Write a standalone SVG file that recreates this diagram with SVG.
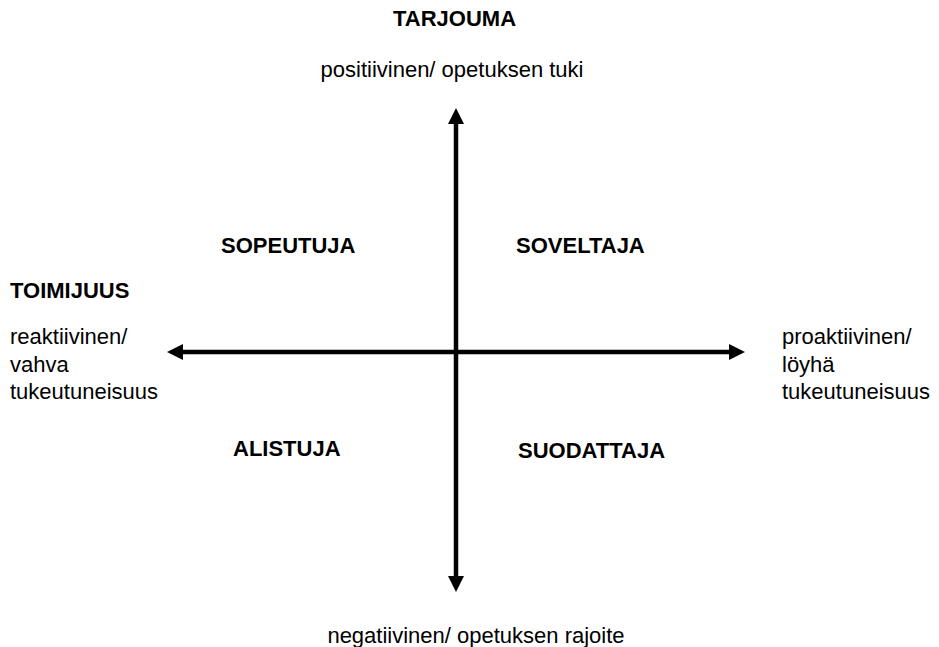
<svg xmlns="http://www.w3.org/2000/svg" width="939" height="647" viewBox="0 0 939 647">
<defs>
<style>
text{font-family:"Liberation Sans",Arial,sans-serif;font-size:22px;fill:#000}
.b{font-weight:bold}
.ax{stroke:#000;stroke-width:4.5;fill:none}
</style>
<marker id="ah" markerUnits="userSpaceOnUse" markerWidth="16" markerHeight="16" viewBox="0 0 16 16" refX="0" refY="8" orient="auto-start-reverse">
<path d="M0,0 L16,8 L0,16 Z" fill="#000"/>
</marker>
</defs>
<rect width="939" height="647" fill="#fff"/>
<g id="connectors">
<line class="ax" x1="456" y1="124" x2="456" y2="576" marker-start="url(#ah)" marker-end="url(#ah)"/>
<line class="ax" x1="183" y1="352" x2="729" y2="352" marker-start="url(#ah)" marker-end="url(#ah)"/>
</g>
<g id="tarjouma">
<text class="b" x="454.5" y="26" text-anchor="middle">TARJOUMA</text>
<text x="452" y="77" text-anchor="middle">positiivinen/ opetuksen tuki</text>
</g>
<g id="negatiivinen">
<text x="476" y="643" text-anchor="middle">negatiivinen/ opetuksen rajoite</text>
</g>
<g id="toimijuus">
<text class="b" x="10" y="298">TOIMIJUUS</text>
<text x="10" y="344">reaktiivinen/</text>
<text x="10" y="371.5">vahva</text>
<text x="10" y="399">tukeutuneisuus</text>
</g>
<g id="proaktiivinen">
<text x="782" y="344">proaktiivinen/</text>
<text x="782" y="371.5">löyhä</text>
<text x="782" y="399">tukeutuneisuus</text>
</g>
<g id="sopeutuja"><text class="b" x="221" y="253">SOPEUTUJA</text></g>
<g id="soveltaja"><text class="b" x="516" y="253">SOVELTAJA</text></g>
<g id="alistuja"><text class="b" x="233" y="456">ALISTUJA</text></g>
<g id="suodattaja"><text class="b" x="518" y="458">SUODATTAJA</text></g>
</svg>
